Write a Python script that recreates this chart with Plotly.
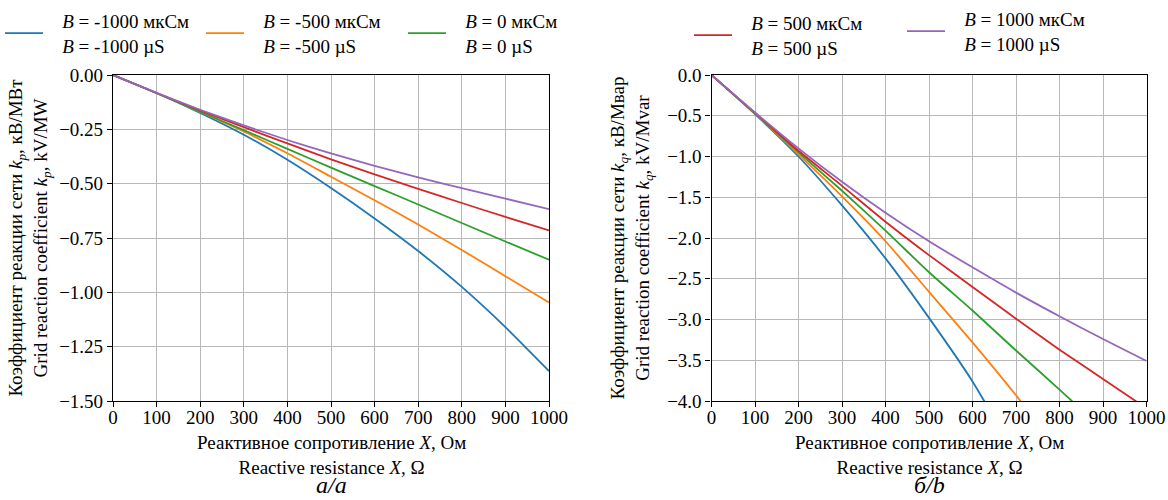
import plotly.graph_objects as go

# ---------------- data ----------------
X = [0, 100, 200, 300, 400, 500, 600, 700, 800, 900, 1000]
B_values = [-1000, -500, 0, 500, 1000]

# k_p, kV/MW (panel a)
kp_m1000 = [0, -0.083, -0.175, -0.275, -0.390, -0.520, -0.660, -0.810, -0.975, -1.160, -1.362]
kp_m500 = [0, -0.083, -0.170, -0.260, -0.360, -0.468, -0.576, -0.688, -0.805, -0.926, -1.047]
kp_0 = [0, -0.084, -0.169, -0.254, -0.340, -0.426, -0.511, -0.596, -0.681, -0.766, -0.850]
kp_p500 = [0, -0.083, -0.163, -0.240, -0.315, -0.388, -0.457, -0.524, -0.589, -0.653, -0.715]
kp_p1000 = [0, -0.082, -0.160, -0.232, -0.299, -0.361, -0.418, -0.471, -0.521, -0.569, -0.617]

# k_q, kV/Mvar (panel b); values past -4 are off-axis continuations (clipped)
kq_m1000 = [0, -0.48, -1.00, -1.60, -2.25, -2.98, -3.76, -4.68]
kq_m500 = [0, -0.475, -0.975, -1.49, -2.04, -2.66, -3.28, -3.93, -4.62]
kq_0 = [0, -0.47, -0.95, -1.42, -1.91, -2.42, -2.89, -3.38, -3.86, -4.35]
kq_p500 = [0, -0.465, -0.93, -1.36, -1.80, -2.21, -2.60, -2.99, -3.37, -3.73, -4.09]
kq_p1000 = [0, -0.46, -0.90, -1.31, -1.69, -2.04, -2.36, -2.67, -2.96, -3.24, -3.51]

kp_series = [kp_m1000, kp_m500, kp_0, kp_p500, kp_p1000]
kq_series = [kq_m1000, kq_m500, kq_0, kq_p500, kq_p1000]

legend_ru = ["<i>B</i> = -1000 мкСм", "<i>B</i> = -500 мкСм", "<i>B</i> = 0 мкСм",
             "<i>B</i> = 500 мкСм", "<i>B</i> = 1000 мкСм"]
legend_en = ["<i>B</i> = -1000 µS", "<i>B</i> = -500 µS", "<i>B</i> = 0 µS",
             "<i>B</i> = 500 µS", "<i>B</i> = 1000 µS"]

colors = ["#1f77b4", "#ff7f0e", "#2ca02c", "#d62728", "#9467bd"]
x_ticks = [0, 100, 200, 300, 400, 500, 600, 700, 800, 900, 1000]

x_title = "Реактивное сопротивление <i>X</i>, Ом<br>Reactive resistance <i>X</i>, Ω"
yp_title = ("Коэффициент реакции сети <i>k<sub>p</sub></i>, кВ/МВт<br>"
            "Grid reaction coefficient <i>k<sub>p</sub></i>, kV/MW")
yq_title = ("Коэффициент реакции сети <i>k<sub>q</sub></i>, кВ/Мвар<br>"
            "Grid reaction coefficient <i>k<sub>q</sub></i>, kV/Mvar")
panel_labels = ["<i>а/a</i>", "<i>б/b</i>"]

FONT = "Liberation Serif, Times New Roman, serif"
W, H = 1168, 500
MT, MB = 75, 99
PH = H - MT - MB

fig = go.Figure()
legend_names = ["legend", "legend2", "legend3", "legend4", "legend5"]
PAD = "\u00a0\u00a0\u00a0"
for i in range(5):
    fig.add_trace(go.Scatter(
        x=X[:len(kp_series[i])], y=kp_series[i], mode="lines",
        line=dict(color=colors[i], width=1.8, shape="spline", smoothing=0.6),
        name=PAD + legend_ru[i] + "<br>" + PAD + legend_en[i],
        legend=legend_names[i], xaxis="x", yaxis="y", showlegend=True))
for i in range(5):
    fig.add_trace(go.Scatter(
        x=X[:len(kq_series[i])], y=kq_series[i], mode="lines",
        line=dict(color=colors[i], width=1.8, shape="spline", smoothing=0.6),
        name=legend_ru[i] + "<br>" + legend_en[i],
        xaxis="x2", yaxis="y2", showlegend=False))

axis_common = dict(
    showline=True, mirror=True, linecolor="black", linewidth=1.2,
    ticks="outside", ticklen=5, tickcolor="black", tickwidth=1,
    showgrid=True, gridcolor="#b8b8b8", gridwidth=1, zeroline=False,
    tickfont=dict(family=FONT, size=19, color="black"),
    automargin=False,
)
TF = dict(family=FONT, size=19, color="black")

fig.update_layout(
    width=W, height=H,
    margin=dict(l=0, r=0, t=MT, b=MB),
    paper_bgcolor="white", plot_bgcolor="white",
    font=dict(family=FONT, size=19, color="black"),
    xaxis=dict(domain=[113 / W, 549 / W], range=[0, 1000], tickvals=x_ticks,
               ticklabelstandoff=-6, anchor="y", **axis_common),
    yaxis=dict(domain=[0, 1], range=[-1.5, 0], dtick=0.25, tickformat=".2f",
               title=dict(text=yp_title, font=TF, standoff=6),
               anchor="x", **axis_common),
    xaxis2=dict(domain=[711.5 / W, 1146.5 / W], range=[0, 1000], tickvals=x_ticks,
                ticklabelstandoff=-6, anchor="y2", **axis_common),
    yaxis2=dict(domain=[0, 1], range=[-4, 0], dtick=0.5, tickformat=".1f",
                title=dict(text=yq_title, font=TF, standoff=12),
                anchor="x2", **axis_common),
)

legend_x = [-1, 201, 403, 689, 902]
legend_y = [2, 2, 2, 4, 0]
for i, name in enumerate(legend_names):
    fig.update_layout({name: dict(
        x=legend_x[i] / W, y=1 - legend_y[i] / H, xref="container", yref="container",
        xanchor="left", yanchor="top", orientation="h",
        bgcolor="rgba(0,0,0,0)", borderwidth=0, itemwidth=38,
        font=dict(family=FONT, size=19, color="black"),
    )})

# x-axis titles (two-line) and panel labels
for xpx, label in [(331, panel_labels[0]), (929, panel_labels[1])]:
    fig.add_annotation(text=x_title, x=xpx / W, y=(H - MB - 455) / PH,
                       xref="paper", yref="paper", showarrow=False, font=TF,
                       xanchor="center", yanchor="middle")
    fig.add_annotation(text=label, x=xpx / W, y=(H - MB - 485) / PH,
                       xref="paper", yref="paper", showarrow=False,
                       font=dict(family=FONT, size=24, color="black"),
                       xanchor="center", yanchor="middle")

fig.write_html("out.html", config={"displayModeBar": False},
               post_script="document.body.style.margin='0';")
